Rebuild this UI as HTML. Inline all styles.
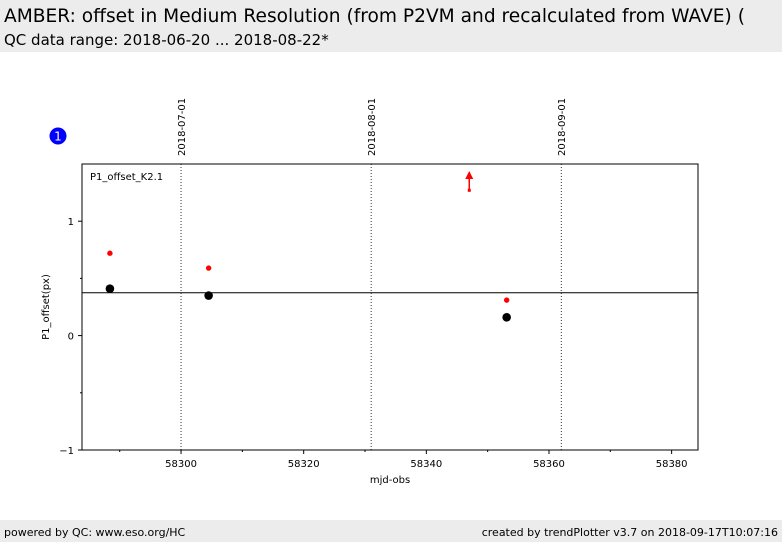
<!DOCTYPE html>
<html><head><meta charset="utf-8"><style>
body{margin:0;width:782px;height:542px;background:#fff;font-family:"DejaVu Sans","Liberation Sans",sans-serif;overflow:hidden;position:relative}
.hdr{position:absolute;left:0;top:0;width:782px;height:52px;background:#ececec}
.t1{position:absolute;left:4px;top:6px;font-size:18.6px;white-space:nowrap}
.t2{position:absolute;left:4px;top:31px;font-size:15px;white-space:nowrap}
.ftr{position:absolute;left:0;top:520px;width:782px;height:22px;background:#ececec;font-size:11px}
</style></head><body>
<div class="hdr">
<div class="t1">AMBER: offset in Medium Resolution (from P2VM and recalculated from WAVE) (</div>
<div class="t2">QC data range: 2018-06-20 ... 2018-08-22*</div>
</div>
<svg id="chart" width="782" height="542" style="position:absolute;left:0;top:0" font-family="DejaVu Sans, Liberation Sans, sans-serif">
<circle cx="58" cy="136" r="8.5" fill="#0000ff"/>
<text x="58" y="140.5" fill="#fff" font-size="12" text-anchor="middle">1</text>
</svg>
<div class="ftr">
<span style="position:absolute;left:4px;top:6px">powered by QC: www.eso.org/HC</span>
<span style="position:absolute;right:4px;top:6px">created by trendPlotter v3.7 on 2018-09-17T10:07:16</span>
</div>
<script>
const xTicks=[58300,58320,58340,58360,58380];
const yTicks=[-1,0,1];
const dateLabels=["2018-07-01","2018-08-01","2018-09-01"];
const dateMjd=[58300,58331,58362];
const blackX=[58288.4,58304.5,58353.1];
const blackY=[0.41,0.35,0.16];
const redX=[58288.4,58304.5,58353.1];
const redY=[0.72,0.59,0.31];
const outX=[58347.0];
const outY=[1.27];
const refLine=[0.375];
const L=82,R=698,T=164,B=450;
const xmin=58283.85,xmax=58384.3,ymin=-1,ymax=1.5;
const sx=v=>L+(v-xmin)/(xmax-xmin)*(R-L);
const sy=v=>B-(v-ymin)/(ymax-ymin)*(B-T);
const svg=document.getElementById('chart');
const NS='http://www.w3.org/2000/svg';
function mk(t,a){const e=document.createElementNS(NS,t);for(const k in a)e.setAttribute(k,a[k]);svg.appendChild(e);return e;}
let e=mk('rect',{x:L,y:T,width:R-L,height:B-T,fill:'#fff',stroke:'#000','stroke-width':1});


dateMjd.forEach((m,i)=>{
 const x=sx(m);
 let l=mk('line',{x1:x,x2:x,y1:T,y2:B,stroke:'#000','stroke-width':0.8,'stroke-dasharray':'1,2'});
 
 
 let t=mk('text',{x:0,y:0,'font-size':10,transform:`translate(${x+4},156) rotate(-90)`});
 t.textContent=dateLabels[i];
 
 
});
xTicks.forEach(v=>{
 const x=sx(v);
 let l=mk('line',{x1:x,x2:x,y1:B,y2:B+4,stroke:'#000'});
 
 
 let t=mk('text',{x:x,y:B+17,'font-size':10,'text-anchor':'middle'});
 t.textContent=v;
 
 
});
for(let v=58290;v<=58380;v+=20){const x=sx(v);
 let l=mk('line',{x1:x,x2:x,y1:B,y2:B+2,stroke:'#000'});
 
 }
yTicks.forEach(v=>{
 const y=sy(v);
 let l=mk('line',{x1:L-4,x2:L,y1:y,y2:y,stroke:'#000'});
 
 
 let t=mk('text',{x:L-8,y:y+4,'font-size':10,'text-anchor':'end'});
 t.textContent=v<0?'\u22121':v;
 
 
});
[-0.5,0.5].forEach(v=>{const y=sy(v);
 let l=mk('line',{x1:L-2,x2:L,y1:y,y2:y,stroke:'#000'});
 
 });
refLine.forEach(v=>{
 let l=mk('line',{x1:L,x2:R,y1:sy(v),y2:sy(v),stroke:'#000','stroke-width':1});
 
 
});
redX.forEach((x,i)=>{
 let c=mk('circle',{cx:sx(x),cy:sy(redY[i]),r:2.7,fill:'#ff0000'});
 
 
});
outX.forEach((x,i)=>{
 const px=sx(x),py=sy(outY[i]);
 let g=mk('g',{});
 
 
 const ln=document.createElementNS(NS,'line');
 ln.setAttribute('x1',px);ln.setAttribute('x2',px);ln.setAttribute('y1',py);ln.setAttribute('y2',T+14);
 ln.setAttribute('stroke','#ff0000');ln.setAttribute('stroke-width',1.5);g.appendChild(ln);
 const pg=document.createElementNS(NS,'polygon');
 pg.setAttribute('points',`${px-4},${T+15} ${px+4},${T+15} ${px},${T+7}`);pg.setAttribute('fill','#ff0000');g.appendChild(pg);
 const d=document.createElementNS(NS,'rect');
 d.setAttribute('x',px-1.5);d.setAttribute('y',py-1.5);d.setAttribute('width',3);d.setAttribute('height',3);d.setAttribute('fill','#ff0000');g.appendChild(d);
});
blackX.forEach((x,i)=>{
 let c=mk('circle',{cx:sx(x),cy:sy(blackY[i]),r:4.3,fill:'#000'});
 
 
});
let pl=mk('text',{x:90,y:180,'font-size':10});
pl.textContent='P1_offset_K2.1';


let xl=mk('text',{x:390,y:483,'font-size':10,'text-anchor':'middle'});
xl.textContent='mjd-obs';


let yl=mk('text',{x:0,y:0,'font-size':10,'text-anchor':'middle',transform:'translate(49,307) rotate(-90)'});
yl.textContent='P1_offset(px)';


</script>
</body></html>
